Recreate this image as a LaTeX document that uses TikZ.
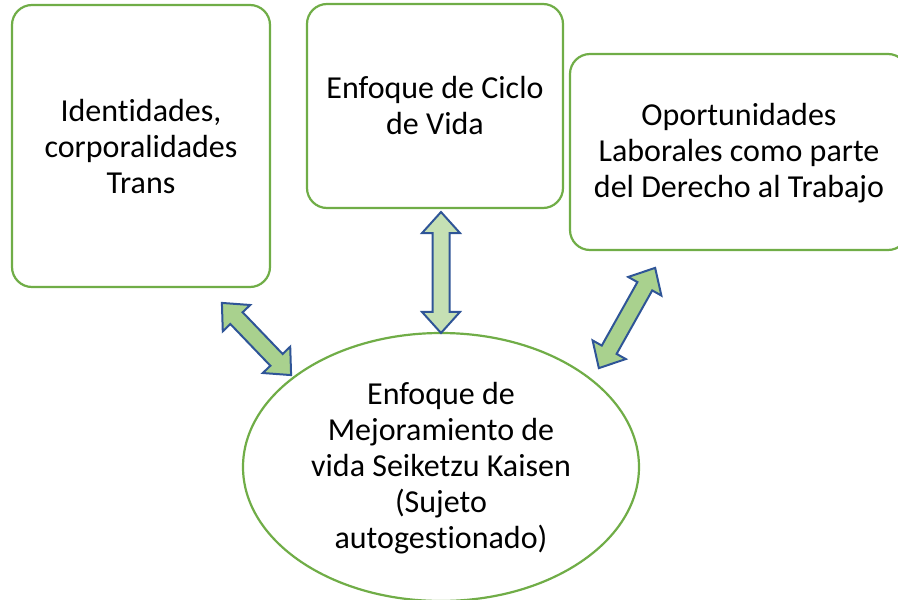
\documentclass[tikz,border=0pt]{standalone}
\usepackage{fontspec}
\setmainfont{Carlito}[Ligatures=NoCommon]
\usetikzlibrary{shapes.arrows,shapes.geometric}
\definecolor{boxgreen}{HTML}{70AD47}
\definecolor{arrfill}{HTML}{A9D18E}
\definecolor{arrfilllight}{HTML}{C5E0B4}
\definecolor{arrblue}{HTML}{2F5597}
\tikzset{
  txt/.style={font=\fontsize{32}{36}\selectfont, align=center, text=black},
  rbox/.style={draw=boxgreen, line width=2.2pt, rounded corners=20pt, fill=white},
  darrow/.style={double arrow, draw=arrblue, line width=2pt, fill=arrfill,
    inner sep=0pt, inner ysep=7.5pt, double arrow head extend=10.5pt,
    double arrow tip angle=84, anchor=center},
}
\begin{document}
\begin{tikzpicture}[x=1pt,y=-1pt]
\useasboundingbox (0,0) rectangle (898,600);
\clip (0,0) rectangle (898,600);
% boxes
\draw[rbox] (12,5) rectangle (270,287);
\node[txt] (b1) at (141,147) {Identidades,\\corporalidades\\Trans};
\draw[rbox] (307,4) rectangle (563,208);
\node[txt] (b2) at (435,106) {Enfoque de Ciclo\\de Vida};
\draw[rbox] (570,54) rectangle (908,250);
\node[txt] (b3) at (739,153) {Oportunidades\\Laborales como parte\\del Derecho al Trabajo};
% ellipse
\node[ellipse, draw=boxgreen, line width=2.2pt, fill=white,
      minimum width=396pt, minimum height=268pt, inner sep=0pt] (e) at (441,467) {};
\node[txt] (et) at (441,468) {Enfoque de\\Mejoramiento de\\vida Seiketzu Kaisen\\(Sujeto\\autogestionado)};
% double arrows
\node[darrow, minimum height=100pt, rotate=-46.2] (a1) at (256.5,339) {};
\node[darrow, fill=arrfilllight, minimum height=121pt, rotate=90] (a2) at (441,272.5) {};
\node[darrow, minimum height=115pt, rotate=60.7] (a3) at (627,318) {};
\end{tikzpicture}
\end{document}
